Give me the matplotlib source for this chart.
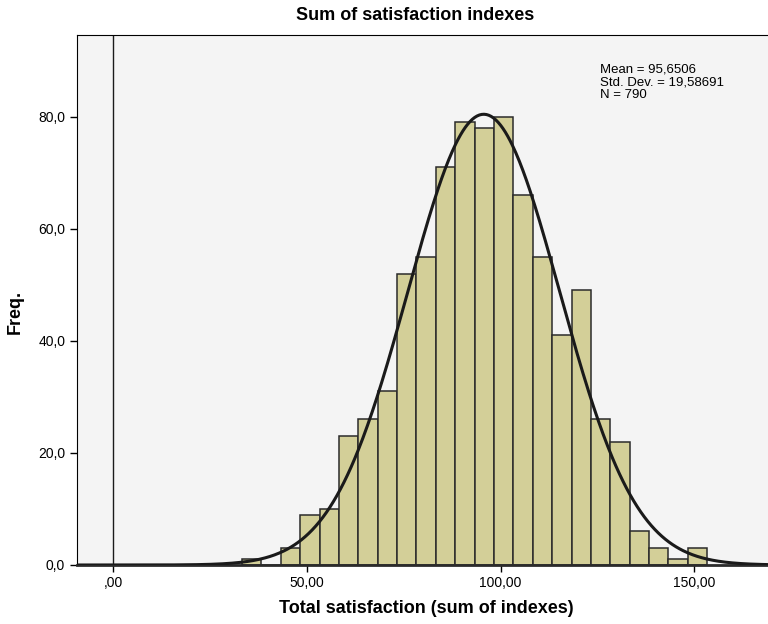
import numpy as np
import matplotlib
matplotlib.use("Agg")
import matplotlib.pyplot as plt

# histogram counts, bin width 5
bin_start = 33.3
bin_width = 5
counts = [1, 0, 3, 9, 10, 23, 26, 31, 52, 55, 71, 79, 78, 80, 66, 55, 41, 49, 26, 22, 6, 3, 1, 3]
mean = 95.6506
std = 19.58691
n = 790

x_ticks = [0, 50, 100, 150]
x_labels = [",00", "50,00", "100,00", "150,00"]
y_ticks = [0, 20, 40, 60, 80]
y_labels = ["0,0", "20,0", "40,0", "60,0", "80,0"]

plt.rcParams['font.family'] = ['Liberation Sans', 'DejaVu Sans']

fig = plt.figure(figsize=(7.68, 6.24), dpi=100)
ax = fig.add_axes([77/768, 59/624, 1 - 77/768, 530/624])
ax.set_facecolor('#f4f4f4')

lefts = bin_start + bin_width*np.arange(len(counts))
ax.bar(lefts, counts, width=bin_width, align='edge', color='#d3cf98',
       edgecolor='#2b2b2b', linewidth=1.1, zorder=2)

xs = np.linspace(-10, 172, 600)
ys = n*bin_width/(std*np.sqrt(2*np.pi))*np.exp(-0.5*((xs-mean)/std)**2)
ax.plot(xs, ys, color='#1a1a1a', linewidth=2.2, zorder=3)

ax.axvline(0, color='#1a1a1a', linewidth=1, zorder=1)

ax.set_xlim(-9.3, 169)
ax.set_ylim(0, 94.6)
ax.set_xticks(x_ticks)
ax.set_xticklabels(x_labels, fontsize=10)
ax.set_yticks(y_ticks)
ax.set_yticklabels(y_labels, fontsize=10)
ax.tick_params(axis='x', length=5, width=1, pad=3)
ax.tick_params(axis='y', length=5, width=1)

for s in ['left', 'top']:
    ax.spines[s].set_linewidth(0.8)
ax.spines['right'].set_visible(False)
ax.spines['bottom'].set_linewidth(2)
ax.spines['bottom'].set_color('#2b2b2b')

ax.text(0.757, 0.947, "Mean = 95,6506\nStd. Dev. = 19,58691\nN = 790",
        transform=ax.transAxes, fontsize=9.5, va='top', ha='left', linespacing=1.12)

fig.text(0.54, 0.975, "Sum of satisfaction indexes", ha='center', va='center',
         fontsize=13, fontweight='bold')
fig.text(0.555, 0.025, "Total satisfaction (sum of indexes)", ha='center', va='center',
         fontsize=13, fontweight='bold')
fig.text(0.02, 0.5, "Freq.", ha='center', va='center', rotation=90,
         fontsize=13, fontweight='bold')

fig.savefig("out.png", dpi=100)
